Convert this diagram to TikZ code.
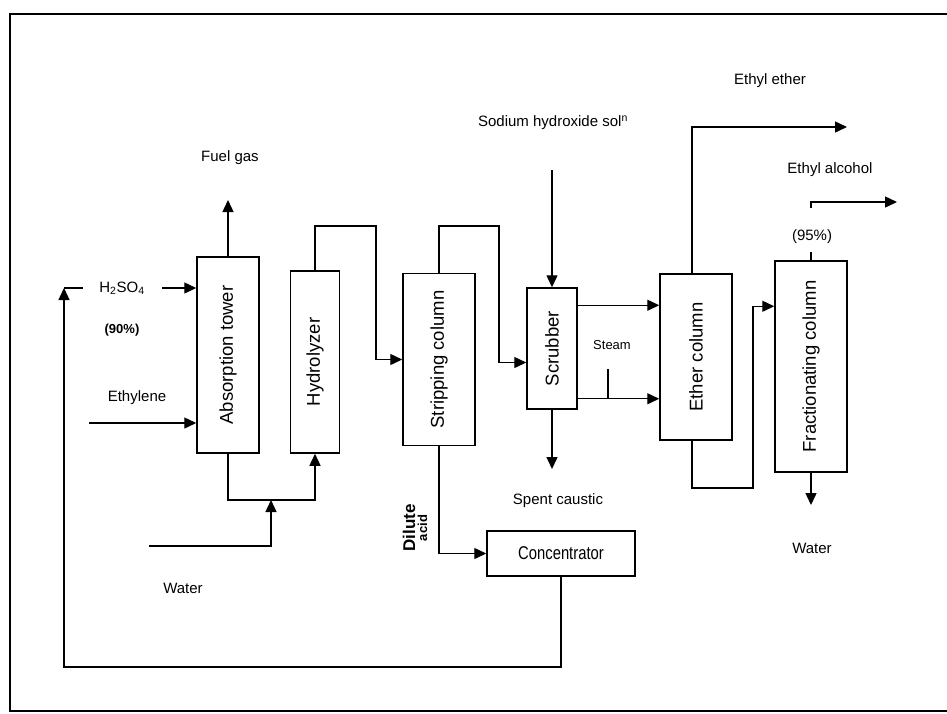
\documentclass[tikz,border=0pt]{standalone}
\usepackage{fontspec}
\setmainfont{Liberation Sans}
\usetikzlibrary{arrows.meta}

\begin{document}
\begin{tikzpicture}[
  x=1pt, y=-1pt,
  vessel/.style={draw, line width=1.5pt, inner sep=0pt, font=\fontsize{18.5}{21}\selectfont},
  stream/.style={line width=1.4pt, -{Triangle[length=12pt,width=11pt]}},
  pipe/.style={line width=1.4pt},
  tag/.style={inner sep=1pt, font=\fontsize{15}{17}\selectfont},
  frame/.style={line width=2.6pt}
]
\useasboundingbox (0,0) rectangle (947,713);
\draw[frame] (947,14) -- (10,14) -- (10,711) -- (947,711);
\node[vessel, minimum width=62pt, minimum height=196pt] (absorb) at (228,355) {\rotatebox{90}{Absorption tower}};
\node[vessel, minimum width=49pt, minimum height=182pt] (hydro) at (315,362) {\rotatebox{90}{Hydrolyzer}};
\node[vessel, minimum width=72pt, minimum height=172pt] (strip) at (439,359.5) {\rotatebox{90}{Stripping column}};
\node[vessel, minimum width=50pt, minimum height=121pt] (scrub) at (552,348.5) {\rotatebox{90}{Scrubber}};
\node[vessel, minimum width=72pt, minimum height=166pt] (ether) at (696,357) {\rotatebox{90}{Ether column}};
\node[vessel, minimum width=72pt, minimum height=211pt] (frac) at (811,366.5) {\rotatebox{90}{Fractionating column}};
\node[vessel, minimum width=148pt, minimum height=45pt] (conc) at (561,553.5) {\scalebox{0.8}[1]{Concentrator}};
\node[tag] (fuel-t) at (230,158) {Fuel gas};
\node[tag] (acid-t) at (122,288) {H\textsubscript{2}SO\textsubscript{4}};
\node[tag, font=\bfseries\fontsize{13}{15}\selectfont] (acidpct-t) at (122,330) {(90\%)};
\node[tag] (ethylene-t) at (137,398) {Ethylene};
\node[tag] (water-t) at (183,588) {Water};
\node[tag] (naoh-t) at (553,123) {Sodium hydroxide sol\textsuperscript{n}};
\node[tag, font=\fontsize{13}{15}\selectfont] (steam-t) at (612,345) {Steam};
\node[tag] (spent-t) at (558,501) {Spent caustic};
\node[tag, rotate=90, align=center, font=\bfseries] (dilute-t) at (415,528) {\fontsize{17}{14}\selectfont Dilute\\\fontsize{13}{11}\selectfont acid};
\node[tag] (ether-t) at (770,81) {Ethyl ether};
\node[tag] (alcohol-t) at (830,170) {Ethyl alcohol};
\node[tag] (alcpct-t) at (812,237) {(95\%)};
\node[tag] (water2-t) at (812,548) {Water};
\coordinate (fuel) at (228,200);
\coordinate (acidin) at (162,288);
\coordinate (ethin) at (89,423);
\coordinate (mix) at (271,500);
\coordinate (waterin) at (149,546);
\coordinate (hyover) at (376,226);
\coordinate (stover) at (499,226);
\coordinate (naoh) at (552,170);
\coordinate (scrhigh) at ([yshift=-18pt]scrub.north east);
\coordinate (scrlow) at ([yshift=11pt]scrub.south east);
\coordinate (steam) at (608,369);
\coordinate (spent) at (552,469);
\coordinate (etherout) at (847,127);
\coordinate (etherloop) at (753,488);
\coordinate (fracin) at ([yshift=-46pt]frac.north west);
\coordinate (fracstub) at (811,252);
\coordinate (alcstart) at (811,208);
\coordinate (alcout) at (897,202);
\coordinate (fracwater) at (811,505);
\coordinate (ret) at (64,667);
\coordinate (rettop) at (64,288);
\coordinate (retend) at (83,288);
\draw[stream] (absorb.north) -- (fuel);
\draw[stream] (acidin) -- (acidin -| absorb.west);
\draw[stream] (ethin) -- (ethin -| absorb.west);
\draw[stream] (absorb.south) |- (mix) -| (hydro.south);
\draw[stream] (waterin) -| (mix);
\draw[stream] (hydro.north) |- (hyover) |- (strip.west);
\draw[stream] (strip.north) |- (stover) |- ([yshift=-14pt]scrub.west);
\draw[stream] (naoh) -- (scrub.north);
\draw[stream] (scrhigh) -- (scrhigh -| ether.west);
\draw[stream] (scrlow) -- (scrlow -| ether.west);
\draw[pipe] (steam) -- (steam |- scrlow);
\draw[stream] (scrub.south) -- (spent);
\draw[stream] (strip.south) |- (conc.west);
\draw[stream] ([xshift=-4pt]ether.north) |- (etherout);
\draw[stream] ([xshift=-4pt]ether.south) |- (etherloop) |- (fracin);
\draw[pipe] (frac.north) -- (fracstub);
\draw[stream] (alcstart) |- (alcout);
\draw[stream] (frac.south) -- (fracwater);
\draw[stream] (conc.south) |- (ret) -- (rettop);
\draw[pipe] (rettop) -- (retend);
\end{tikzpicture}
\end{document}
